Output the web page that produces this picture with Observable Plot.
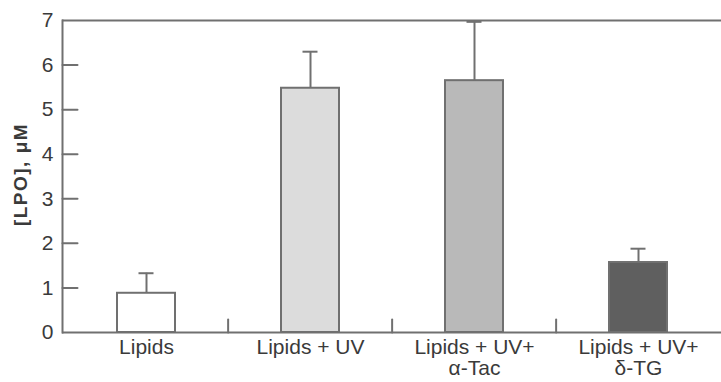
<!DOCTYPE html>
<html>
<head>
<meta charset="utf-8">
<script src="https://cdn.jsdelivr.net/npm/d3@7"></script>
<script src="https://cdn.jsdelivr.net/npm/@observablehq/plot@0.6"></script>
<style>
  html, body { margin: 0; padding: 0; background: #fff; }
</style>
</head>
<body>
<div id="chart"></div>
<script>
// Data
const categories = ["Lipids", "Lipids + UV", "Lipids + UV+\nα-Tac", "Lipids + UV+\nδ-TG"];
const means = [0.88, 5.48, 5.65, 1.57];
const upperErr = [1.33, 6.30, 6.97, 1.88];
const fills = ["#ffffff", "#dcdcdc", "#b9b9b9", "#5f5f5f"];
const yTicks = [0, 1, 2, 3, 4, 5, 6, 7];
const yLabel = "[LPO], μM";

const data = categories.map((c, i) => ({cat: c, mean: means[i], upper: upperErr[i], fill: fills[i]}));

const W = 721, H = 382, ML = 62, MR = 0, MT = 20, MB = 50;
const step = (W - ML - MR) / categories.length;
const lineColor = "#707070";
const textColor = "#3a3a3a";

// straight tick shape for vector marks (no arrowhead)
const tickShape = {draw(context, l) { context.moveTo(0, 0); context.lineTo(0, -l); }};

const chart = Plot.plot({
  width: W,
  height: H,
  marginLeft: ML,
  marginRight: MR,
  marginTop: MT,
  marginBottom: MB,
  style: {fontFamily: "'Liberation Sans', Arial, sans-serif", fontSize: "21px", color: textColor, background: "#fff"},
  x: {domain: categories, paddingInner: 0.648, paddingOuter: 0.324, align: 0.5},
  y: {domain: [0, 7]},
  color: {type: "identity"},
  marks: [
    Plot.barY(data, {x: "cat", y: "mean", fill: "fill", stroke: lineColor, strokeWidth: 2}),
    Plot.ruleX(data, {x: "cat", y1: "mean", y2: "upper", stroke: lineColor, strokeWidth: 2}),
    Plot.tickY(data, {x: "cat", y: "upper", stroke: lineColor, strokeWidth: 2, insetLeft: 21.5, insetRight: 21.5}),
    Plot.ruleY([0, 7], {stroke: lineColor, strokeWidth: 2}),
    Plot.frame({anchor: "left", stroke: lineColor, strokeWidth: 2}),
    Plot.vector(yTicks.slice(1, -1), {y: d => d, frameAnchor: "left", rotate: 90, length: 15, anchor: "start", shape: tickShape, stroke: lineColor, strokeWidth: 2}),
    Plot.vector(categories.slice(1), {x: d => d, frameAnchor: "bottom", dx: -step / 2, rotate: 0, length: 13, anchor: "start", shape: tickShape, stroke: lineColor, strokeWidth: 2}),
    Plot.axisY({ticks: yTicks, tickFormat: d => String(d), tickSize: 0, tickPadding: 9, label: null, fontSize: 21, fill: textColor}),
    Plot.axisX({tickSize: 0, tickPadding: 7, label: null, fontSize: 21, lineHeight: 1.0, fill: textColor}),
    Plot.text([yLabel], {text: d => d, frameAnchor: "left", dx: -42, dy: -2, rotate: -90, textAnchor: "middle", lineAnchor: "middle", fontSize: 19, fontWeight: "bold", fill: textColor, className: "ylabel"})
  ]
});
d3.select(chart).selectAll(".ylabel text").style("letter-spacing", "1.5px");
document.getElementById("chart").appendChild(chart);
</script>
</body>
</html>
